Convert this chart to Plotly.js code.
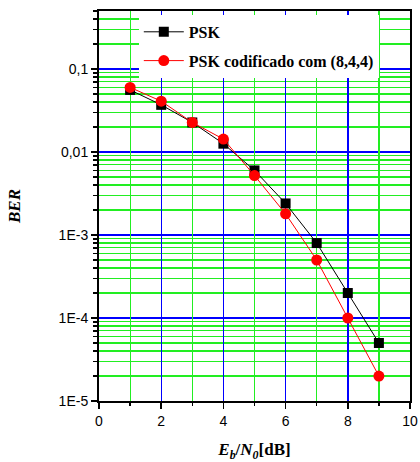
<!DOCTYPE html>
<html><head><meta charset="utf-8">
<script src="https://cdn.plot.ly/plotly-3.0.1.min.js"></script>
<style>html,body{margin:0;padding:0;background:#fff}</style>
</head><body><div id="chart" style="width:420px;height:462px"></div>
<script>
const ebn0 = [1, 2, 3, 4, 5, 6, 7, 8, 9];
const berPSK = [0.056, 0.037, 0.0227, 0.0126, 0.006, 0.0024, 0.0008, 0.0002, 0.00005];
const berCoded = [0.06, 0.041, 0.0227, 0.0143, 0.0052, 0.0018, 0.0005, 0.0001, 0.00002];
const seriesNames = ["PSK", "PSK codificado com (8,4,4)"];
const yTickVals = [0.1, 0.01, 0.001, 0.0001, 0.00001];
const yTickText = ["0,1", "0,01", "1E-3", "1E-4", "1E-5"];
const xTickVals = [0, 2, 4, 6, 8, 10];
const xMinorVals = [1, 3, 5, 7, 9];

const yMinor = [];
for (let e = -5; e <= -1; e++) for (let m = 2; m <= 9; m++) yMinor.push(m * Math.pow(10, e));

const data = [
  {x: ebn0, y: berPSK, name: seriesNames[0], type: 'scatter', mode: 'lines+markers',
   line: {color: '#000000', width: 1}, marker: {symbol: 'square', size: 10, color: '#000000'},
   legendgroup: 'a'},
  {x: ebn0, y: berCoded, name: seriesNames[1], type: 'scatter', mode: 'lines+markers',
   xaxis: 'x2',
   line: {color: '#ff0000', width: 1}, marker: {symbol: 'circle', size: 11, color: '#ff0000'},
   legendgroup: 'b'}
];

const layout = {
  width: 420, height: 462,
  margin: {l: 99, r: 10, t: 11, b: 61},
  paper_bgcolor: '#ffffff', plot_bgcolor: '#ffffff',
  showlegend: true,
  legend: {x: 0.128, y: 0.99, xanchor: 'left', yanchor: 'top', bgcolor: '#ffffff', borderwidth: 0,
    itemwidth: 40,
    font: {family: 'Liberation Serif', size: 16, color: '#000', weight: 'bold'},
    traceorder: 'grouped', tracegroupgap: 5},
  xaxis: {
    range: [0, 10], tickmode: 'array', tickvals: xTickVals, ticktext: xTickVals.map(String),
    ticks: 'outside', ticklen: 6, tickwidth: 1.5, tickcolor: '#000',
    showline: true, linecolor: '#000', linewidth: 2, mirror: true,
    showgrid: true, gridcolor: '#0000ff', gridwidth: 1.4, zeroline: false,
    tickfont: {family: 'Liberation Sans', size: 14, color: '#000'},
    title: {text: '<b><i>E<sub>b</sub></i>/<i>N<sub>0</sub></i>[dB]</b>', standoff: 16,
      font: {family: 'Liberation Serif', size: 17, color: '#000'}}
  },
  xaxis2: {
    overlaying: 'x', anchor: 'y', side: 'bottom', range: [0, 10], tickmode: 'array', tickvals: xMinorVals,
    showticklabels: false, ticks: 'outside', ticklen: 4, tickwidth: 1.5, tickcolor: '#000',
    showline: false, zeroline: false,
    showgrid: true, gridcolor: '#22ee22', gridwidth: 1.2
  },
  yaxis: {
    type: 'log', range: [-5, Math.log10(0.5)],
    tickmode: 'array', tickvals: yTickVals, ticktext: yTickText,
    ticks: 'outside', ticklen: 6, tickwidth: 1.5, tickcolor: '#000',
    showline: true, linecolor: '#000', linewidth: 2, mirror: true,
    showgrid: true, gridcolor: '#0000ff', gridwidth: 1.2, zeroline: false,
    tickfont: {family: 'Liberation Sans', size: 14, color: '#000'},
    minor: {tickmode: 'array', tickvals: yMinor, ticks: 'outside', ticklen: 4, tickcolor: '#000',
      showgrid: true, gridcolor: '#22ee22', gridwidth: 1.2},
    title: {text: '<b><i>BER</i></b>', standoff: 34,
      font: {family: 'Liberation Serif', size: 17, color: '#000'}}
  }
};

Plotly.newPlot('chart', data, layout, {displayModeBar: false, staticPlot: true});
</script>
</body></html>
